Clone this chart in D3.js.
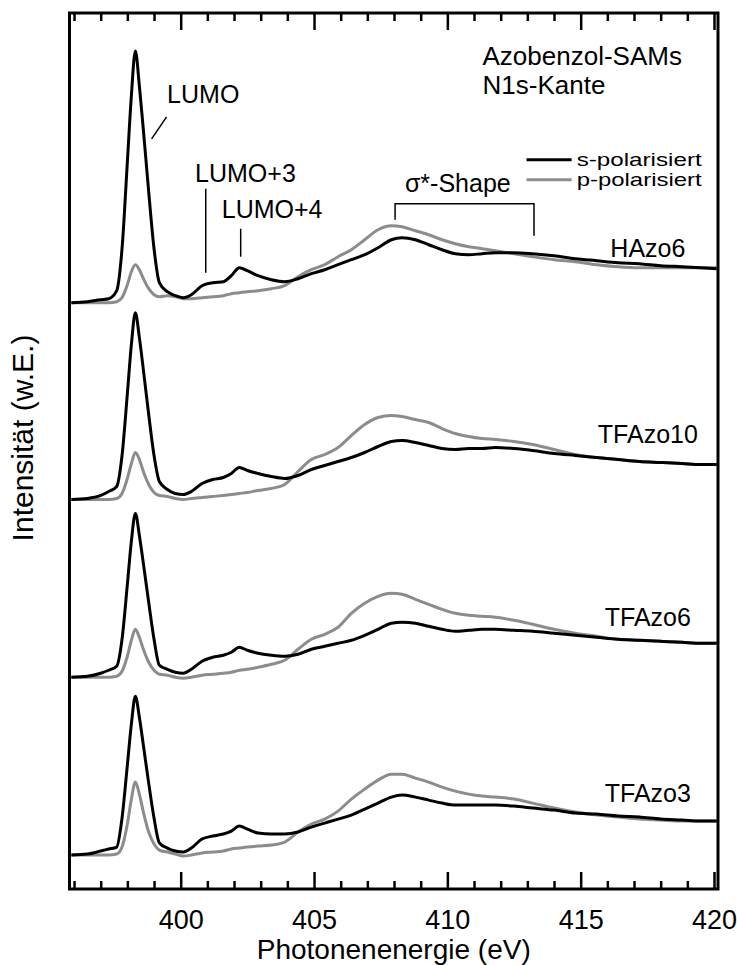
<!DOCTYPE html>
<html>
<head>
<meta charset="utf-8">
<script src="https://cdn.jsdelivr.net/npm/d3@7"></script>
<style>
  html, body { margin: 0; padding: 0; background: #fff; }
  svg text { font-family: "Liberation Sans", Arial, Helvetica, sans-serif; fill: #000; }
</style>
</head>
<body>
<svg id="chart" width="737" height="965"></svg>
<script>
// Photon energy grid (eV)
const energy = [395.9, 396.5, 397.0, 397.3, 397.6, 397.8, 398.0, 398.15, 398.3, 398.45,
  398.6, 398.8, 399.0, 399.2, 399.5, 399.8, 400.1, 400.4, 400.8, 401.2,
  401.6, 401.9, 402.2, 402.5, 402.9, 403.4, 403.9, 404.4, 404.9, 405.4,
  405.9, 406.4, 406.9, 407.4, 407.9, 408.3, 408.8, 409.3, 409.8, 410.3,
  410.8, 411.3, 411.8, 412.5, 413.2, 414.0, 414.8, 415.6, 416.4, 417.2,
  418.0, 418.8, 419.5, 420.1];

// N1s NEXAFS intensities (arb. units, above each spectrum's offset)
const hazo6S = [0.00, 0.01, 0.03, 0.04, 0.12, 0.54, 1.41, 2.07, 2.52, 2.17,
  1.73, 1.11, 0.54, 0.20, 0.11, 0.07, 0.05, 0.08, 0.17, 0.20,
  0.21, 0.27, 0.35, 0.32, 0.27, 0.23, 0.21, 0.24, 0.29, 0.33,
  0.38, 0.43, 0.48, 0.55, 0.63, 0.65, 0.63, 0.58, 0.53, 0.49,
  0.48, 0.49, 0.50, 0.50, 0.49, 0.47, 0.44, 0.42, 0.40, 0.39,
  0.37, 0.36, 0.35, 0.34];
const hazo6P = [0.00, 0.00, 0.00, 0.00, 0.01, 0.05, 0.18, 0.31, 0.38, 0.33,
  0.24, 0.14, 0.08, 0.06, 0.07, 0.06, 0.04, 0.04, 0.05, 0.06,
  0.07, 0.09, 0.10, 0.11, 0.12, 0.14, 0.17, 0.26, 0.33, 0.38,
  0.46, 0.53, 0.63, 0.73, 0.77, 0.76, 0.72, 0.68, 0.63, 0.59,
  0.56, 0.54, 0.52, 0.49, 0.46, 0.43, 0.41, 0.38, 0.36, 0.35,
  0.35, 0.35, 0.35, 0.35];
const tfazo10S = [0.00, 0.01, 0.04, 0.08, 0.13, 0.44, 1.06, 1.55, 1.87, 1.62,
  1.30, 0.85, 0.44, 0.18, 0.10, 0.06, 0.05, 0.08, 0.16, 0.20,
  0.22, 0.26, 0.32, 0.29, 0.26, 0.23, 0.21, 0.24, 0.30, 0.34,
  0.38, 0.42, 0.47, 0.53, 0.58, 0.59, 0.57, 0.54, 0.51, 0.50,
  0.51, 0.51, 0.52, 0.51, 0.49, 0.46, 0.44, 0.42, 0.40, 0.38,
  0.37, 0.36, 0.35, 0.35];
const tfazo10P = [0.00, 0.00, 0.00, 0.00, 0.01, 0.06, 0.21, 0.36, 0.47, 0.40,
  0.28, 0.15, 0.07, 0.04, 0.03, 0.01, 0.00, 0.01, 0.02, 0.03,
  0.04, 0.05, 0.06, 0.07, 0.09, 0.11, 0.15, 0.28, 0.40, 0.45,
  0.52, 0.64, 0.75, 0.82, 0.84, 0.83, 0.80, 0.77, 0.71, 0.66,
  0.63, 0.61, 0.60, 0.58, 0.55, 0.50, 0.45, 0.42, 0.40, 0.38,
  0.37, 0.36, 0.35, 0.35];
const tfazo6S = [0.00, 0.01, 0.04, 0.07, 0.11, 0.38, 0.93, 1.36, 1.64, 1.42,
  1.14, 0.75, 0.38, 0.12, 0.08, 0.05, 0.04, 0.08, 0.16, 0.20,
  0.22, 0.25, 0.30, 0.27, 0.24, 0.22, 0.21, 0.23, 0.28, 0.31,
  0.34, 0.37, 0.42, 0.48, 0.54, 0.55, 0.54, 0.51, 0.48, 0.46,
  0.47, 0.48, 0.48, 0.47, 0.46, 0.44, 0.42, 0.40, 0.38, 0.37,
  0.36, 0.35, 0.34, 0.34];
const tfazo6P = [0.00, 0.00, 0.00, 0.00, 0.01, 0.06, 0.21, 0.37, 0.48, 0.40,
  0.28, 0.15, 0.07, 0.03, 0.02, 0.00, -0.01, 0.00, 0.02, 0.03,
  0.04, 0.05, 0.07, 0.08, 0.10, 0.13, 0.17, 0.28, 0.38, 0.43,
  0.50, 0.64, 0.74, 0.81, 0.84, 0.83, 0.78, 0.73, 0.68, 0.64,
  0.62, 0.61, 0.60, 0.57, 0.53, 0.48, 0.44, 0.41, 0.38, 0.37,
  0.36, 0.35, 0.34, 0.34];
const tfazo3S = [0.00, 0.01, 0.04, 0.06, 0.08, 0.37, 0.90, 1.31, 1.59, 1.38,
  1.10, 0.72, 0.37, 0.12, 0.07, 0.04, 0.03, 0.07, 0.16, 0.19,
  0.21, 0.24, 0.29, 0.26, 0.22, 0.21, 0.21, 0.23, 0.28, 0.32,
  0.36, 0.40, 0.46, 0.52, 0.58, 0.60, 0.58, 0.55, 0.52, 0.50,
  0.50, 0.50, 0.50, 0.49, 0.47, 0.45, 0.42, 0.41, 0.39, 0.38,
  0.36, 0.35, 0.34, 0.34];
const tfazo3P = [0.00, 0.00, 0.00, 0.00, 0.01, 0.08, 0.31, 0.56, 0.73, 0.61,
  0.43, 0.23, 0.11, 0.05, 0.03, 0.01, -0.01, 0.00, 0.02, 0.03,
  0.04, 0.06, 0.07, 0.08, 0.09, 0.10, 0.13, 0.23, 0.31, 0.36,
  0.44, 0.56, 0.66, 0.75, 0.81, 0.81, 0.77, 0.73, 0.68, 0.64,
  0.61, 0.59, 0.58, 0.56, 0.52, 0.47, 0.43, 0.40, 0.38, 0.36,
  0.35, 0.34, 0.34, 0.34];

// Samples, vertical offsets and label heights (arb. units)
const samples = ["HAzo6", "TFAzo10", "TFAzo6", "TFAzo3"];
const sPolarised = [hazo6S, tfazo10S, tfazo6S, tfazo3S];
const pPolarised = [hazo6P, tfazo10P, tfazo6P, tfazo3P];
const offsets = [5.87, 3.90, 2.12, 0.34];
const labelRise = [0.46, 0.57, 0.51, 0.53];

const majorTicks = [400, 405, 410, 415, 420];
const minorTicks = d3.range(396, 420).filter(v => v % 5 !== 0);
const legendLabels = ["s-polarisiert", "p-polarisiert"];
const colors = { s: "#000000", p: "#8c8c8c" };

const svg = d3.select("#chart");
const margin = { left: 69.5, right: 19, top: 13, bottom: 76 };
const W = 737, H = 965;

const x = d3.scaleLinear().domain([395.83, 420.15]).range([margin.left, W - margin.right]);
const y = d3.scaleLinear().domain([0, 8.77]).range([H - margin.bottom, margin.top]);

const FONT = "Liberation Sans, Arial, sans-serif";

// Spectra
const line = d3.line()
  .x(d => x(d[0]))
  .y(d => y(d[1]))
  .curve(d3.curveMonotoneX);

const g = svg.append("g");
samples.forEach((name, i) => {
  const pData = energy.map((e, k) => [e, offsets[i] + pPolarised[i][k]]);
  const sData = energy.map((e, k) => [e, offsets[i] + sPolarised[i][k]]);
  g.append("path").datum(pData).attr("d", line)
    .attr("fill", "none").attr("stroke", colors.p).attr("stroke-width", 3)
    .attr("stroke-linejoin", "round");
  g.append("path").datum(sData).attr("d", line)
    .attr("fill", "none").attr("stroke", colors.s).attr("stroke-width", 3)
    .attr("stroke-linejoin", "round");
  g.append("text")
    .attr("x", x(417.52)).attr("y", y(offsets[i] + labelRise[i]))
    .attr("text-anchor", "middle").attr("font-size", 25)
    .text(name);
});

// Axes: ticks drawn inward on top and bottom
const yBottom = H - margin.bottom;
const bottomMajor = d3.axisBottom(x).tickValues(majorTicks).tickSize(-17).tickPadding(21)
  .tickFormat(d3.format("d"));
const bottomMinor = d3.axisBottom(x).tickValues(minorTicks).tickSize(-8).tickFormat("");
const topMajor = d3.axisTop(x).tickValues(majorTicks).tickSize(-17).tickFormat("");
const topMinor = d3.axisTop(x).tickValues(minorTicks).tickSize(-8).tickFormat("");

function styleAxis(sel) {
  sel.select(".domain").remove();
  sel.selectAll(".tick line").attr("stroke", "#000").attr("stroke-width", 2.5);
  sel.selectAll(".tick text").attr("font-family", FONT).attr("font-size", 27).attr("fill", "#000");
}
svg.append("g").attr("transform", `translate(0,${yBottom})`).call(bottomMajor).call(styleAxis);
svg.append("g").attr("transform", `translate(0,${yBottom})`).call(bottomMinor).call(styleAxis);
svg.append("g").attr("transform", `translate(0,${margin.top})`).call(topMajor).call(styleAxis);
svg.append("g").attr("transform", `translate(0,${margin.top})`).call(topMinor).call(styleAxis);

// Frame
svg.append("rect")
  .attr("x", margin.left).attr("y", margin.top)
  .attr("width", W - margin.right - margin.left)
  .attr("height", yBottom - margin.top)
  .attr("fill", "none").attr("stroke", "#000").attr("stroke-width", 3);

// Axis titles
svg.append("text")
  .attr("x", (margin.left + W - margin.right) / 2).attr("y", 959)
  .attr("text-anchor", "middle").attr("font-size", 28)
  .text("Photonenenergie (eV)");
svg.append("text")
  .attr("transform", `translate(33,438) rotate(-90)`)
  .attr("text-anchor", "middle").attr("font-size", 30)
  .text("Intensität (w.E.)");

// Peak annotations
const ann = svg.append("g");
function leader(e1, v1, e2, v2) {
  ann.append("line")
    .attr("x1", x(e1)).attr("y1", y(v1)).attr("x2", x(e2)).attr("y2", y(v2))
    .attr("stroke", "#000").attr("stroke-width", 1.5);
}
function label(e, v, txt, size) {
  ann.append("text").attr("x", x(e)).attr("y", y(v)).attr("font-size", size).text(txt);
}
label(399.49, 7.87, "LUMO", 25);
leader(399.47, 7.73, 398.91, 7.51);
label(400.54, 7.08, "LUMO+3", 25);
leader(400.94, 7.01, 400.94, 6.17);
label(401.54, 6.72, "LUMO+4", 25);
leader(402.25, 6.61, 402.25, 6.33);
label(408.41, 6.98, "σ*-Shape", 25);

// Bracket spanning the σ* region
const bracket = d3.path();
bracket.moveTo(x(408.04), y(6.70));
bracket.lineTo(x(408.04), y(6.86));
bracket.lineTo(x(413.25), y(6.86));
bracket.lineTo(x(413.25), y(6.54));
ann.append("path").attr("d", bracket.toString())
  .attr("fill", "none").attr("stroke", "#000").attr("stroke-width", 1.5);

// Title block and legend
label(411.32, 8.25, "Azobenzol-SAMs", 26);
label(411.32, 7.96, "N1s-Kante", 26);
const legend = svg.append("g");
const legendV = [7.30, 7.10];
const legendColors = [colors.s, colors.p];
legendLabels.forEach((t, i) => {
  legend.append("line")
    .attr("x1", x(412.97)).attr("x2", x(414.66))
    .attr("y1", y(legendV[i])).attr("y2", y(legendV[i]))
    .attr("stroke", legendColors[i]).attr("stroke-width", 3);
  legend.append("text")
    .attr("x", x(414.85)).attr("y", y(legendV[i]) + 6)
    .attr("font-size", 19).attr("textLength", 125).attr("lengthAdjust", "spacingAndGlyphs")
    .text(t);
});
</script>
</body>
</html>
